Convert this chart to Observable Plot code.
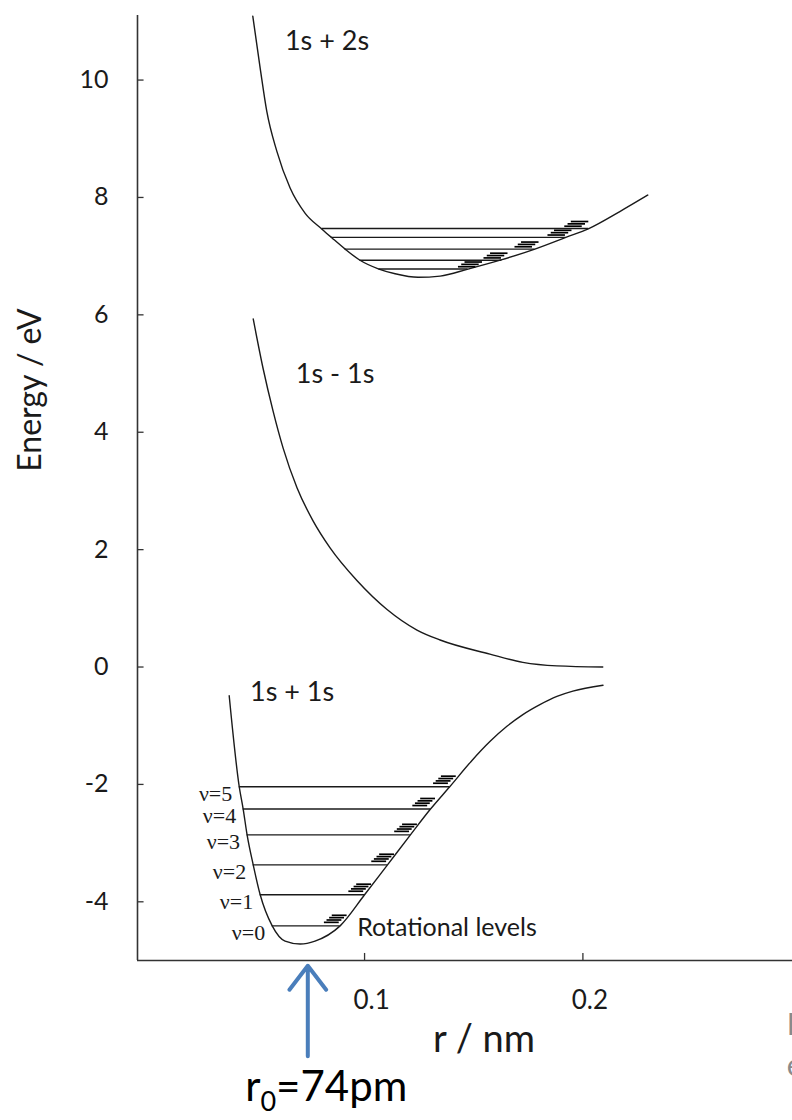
<!DOCTYPE html>
<html><head><meta charset="utf-8">
<script src="https://cdn.jsdelivr.net/npm/d3@7"></script>
<script src="https://cdn.jsdelivr.net/npm/@observablehq/plot@0.6"></script>
<style>
html,body{margin:0;padding:0;background:#fff;}
#chart{width:792px;height:1120px;overflow:hidden;position:relative;}
</style></head><body><div id="chart"></div>
<script>
// Axis ticks
const yTicks = [-4, -2, 0, 2, 4, 6, 8, 10];
const xTicks = [0.1, 0.2];

// 1s + 2s potential curve (r in nm, E in eV)
const upperCurveR = [0.0488, 0.0522, 0.0552, 0.0598, 0.0659, 0.0728, 0.0805, 0.0851, 0.0911, 0.0979, 0.1066, 0.1140, 0.1245, 0.1346, 0.1474, 0.1629, 0.1780, 0.1922, 0.2027, 0.2169, 0.2297];
const upperCurveE = [11.09, 10.20, 9.47, 8.79, 8.16, 7.73, 7.46, 7.31, 7.12, 6.93, 6.78, 6.70, 6.64, 6.66, 6.78, 6.94, 7.12, 7.32, 7.47, 7.76, 8.04];

// 1s - 1s repulsive curve
const midCurveR = [0.0490, 0.0535, 0.0581, 0.0627, 0.0691, 0.0764, 0.0842, 0.0966, 0.1103, 0.1240, 0.1346, 0.1574, 0.1725, 0.1881, 0.2091];
const midCurveE = [5.93, 5.09, 4.36, 3.73, 3.05, 2.49, 2.03, 1.47, 0.98, 0.63, 0.46, 0.22, 0.08, 0.02, 0.00];

// 1s + 1s bonding curve
const lowerCurveR = [0.0380, 0.0426, 0.0444, 0.0462, 0.0490, 0.0522, 0.0577, 0.0636, 0.0705, 0.0773, 0.0888, 0.1000, 0.1105, 0.1210, 0.1302, 0.1390, 0.1490, 0.1574, 0.1652, 0.1725, 0.1803, 0.1881, 0.1954, 0.2092];
const lowerCurveE = [-0.49, -2.04, -2.42, -2.86, -3.37, -3.88, -4.41, -4.67, -4.72, -4.67, -4.41, -3.88, -3.37, -2.86, -2.42, -2.04, -1.60, -1.27, -1.01, -0.81, -0.64, -0.50, -0.41, -0.31];

// Vibrational levels, lower curve (v = 0..5)
const vLabels = ["ν=0", "ν=1", "ν=2", "ν=3", "ν=4", "ν=5"];
const lowerLevelE = [-4.41, -3.88, -3.37, -2.86, -2.42, -2.04];
const lowerLevelLeft = [0.0577, 0.0522, 0.0490, 0.0462, 0.0444, 0.0426];
const lowerLevelRight = [0.0888, 0.1000, 0.1105, 0.1210, 0.1302, 0.1390];
const lowerRotRight = [0.0920, 0.1032, 0.1137, 0.1242, 0.1325, 0.1420];
const lowerRotDE = [0.06, 0.10, 0.14, 0.18];

// Vibrational levels, upper curve
const upperLevelE = [6.78, 6.93, 7.12, 7.32, 7.47];
const upperLevelLeft = [0.1066, 0.0979, 0.0911, 0.0848, 0.0805];
const upperLevelRight = [0.1474, 0.1629, 0.1780, 0.1922, 0.2027];
const upperRotRight = [0.1540, 0.1657, 0.1799, 0.1950, 0.2027];
const upperRotDE = [0.04, 0.08, 0.12];

// Annotations
const curveLabels = ["1s + 2s", "1s - 1s", "1s + 1s"];
const curveLabelR = [0.0828, 0.0865, 0.0668];
const curveLabelE = [10.66, 4.99, -0.44];
const r0 = 0.074; // nm

const toRows = (R, E) => R.map((r, i) => ({r, E: E[i]}));
const levels = (E, L, R) => E.map((e, i) => ({E: e, r1: L[i], r2: R[i]}));
function rungs(E, right, dE, stagger, len) {
  const out = [];
  E.forEach((e, i) => dE.forEach((d, k) => {
    const r2 = right[i] - (dE.length - 1 - k) * stagger;
    out.push({E: e + d, r1: r2 - len, r2});
  }));
  return out;
}

const upperCurve = toRows(upperCurveR, upperCurveE);
const midCurve = toRows(midCurveR, midCurveE);
const lowerCurve = toRows(lowerCurveR, lowerCurveE);
const lowerLevels = levels(lowerLevelE, lowerLevelLeft, lowerLevelRight).map((d, i) => ({...d, label: vLabels[i]}));
const upperLevels = levels(upperLevelE, upperLevelLeft, upperLevelRight);
const lowerRungs = rungs(lowerLevelE, lowerRotRight, lowerRotDE, 0.0012, 0.0068);
const upperRungs = rungs(upperLevelE, upperRotRight, upperRotDE, 0.0015, 0.0080);
const labels = curveLabels.map((t, i) => ({t, r: curveLabelR[i], E: curveLabelE[i]}));

const xMin = -0.004, yMin = -5;
const ink = "#1a1a1a";

const chart = Plot.plot({
  width: 792, height: 1120,
  marginTop: 15, marginBottom: 160, marginLeft: 137, marginRight: 0,
  x: {domain: [xMin, 0.296]},
  y: {domain: [yMin, 11.1]},
  style: {fontFamily: "Lato, 'Open Sans', sans-serif", color: ink, background: "#fff", overflow: "visible"},
  marks: [
    // axes
    Plot.ruleX([xMin], {stroke: "#333", strokeWidth: 1.6}),
    Plot.ruleY([yMin], {stroke: "#333", strokeWidth: 1.6}),
    Plot.ruleY(yTicks, {y: d => d, x1: xMin, x2: xMin + 0.003, stroke: "#333", strokeWidth: 1.3}),
    Plot.ruleX(xTicks, {x: d => d, y1: yMin, y2: yMin + 0.12, stroke: "#333", strokeWidth: 1.3}),
    Plot.axisY({ticks: yTicks, tickSize: 0, tickPadding: 29, tickFormat: d => String(d), fontSize: 25, label: null}),
    Plot.axisX({ticks: xTicks, tickSize: 0, tickPadding: 30, tickFormat: d => String(d), fontSize: 26, dx: 7, label: null}),
    Plot.text(["Energy / eV"], {x: -0.053, y: 4.72, rotate: -90, fontSize: 32, fill: ink}),
    Plot.text(["r / nm"], {x: 0.1547, y: -6.35, fontSize: 38, fill: ink}),
    // curves
    Plot.line(upperCurve, {x: "r", y: "E", curve: "monotone-x", stroke: ink, strokeWidth: 1.4}),
    Plot.line(midCurve, {x: "r", y: "E", curve: "monotone-x", stroke: ink, strokeWidth: 1.4}),
    Plot.line(lowerCurve, {x: "r", y: "E", curve: "monotone-x", stroke: ink, strokeWidth: 1.4}),
    // vibrational levels
    Plot.ruleY(upperLevels, {y: "E", x1: "r1", x2: "r2", stroke: ink, strokeWidth: 1.4}),
    Plot.ruleY(lowerLevels, {y: "E", x1: "r1", x2: "r2", stroke: ink, strokeWidth: 1.4}),
    // rotational levels
    Plot.ruleY(upperRungs, {y: "E", x1: "r1", x2: "r2", stroke: "#000", strokeWidth: 1.7}),
    Plot.ruleY(lowerRungs, {y: "E", x1: "r1", x2: "r2", stroke: "#000", strokeWidth: 1.7}),
    // labels
    Plot.text(lowerLevels, {x: "r1", y: "E", text: "label", textAnchor: "end", dx: -7, dy: 7, fontSize: 22, fontFamily: "'Liberation Serif', serif", fill: ink}),
    Plot.text(labels, {x: "r", y: "E", text: "t", fontSize: 27, fill: ink}),
    Plot.text(["Rotational levels"], {x: 0.0966, y: -4.45, textAnchor: "start", fontSize: 25, fill: ink}),
    // r0 arrow
    Plot.arrow([r0], {x: d => d, y1: -6.63, y2: -5.09, stroke: "#4a7ebb", strokeWidth: 4, headLength: 19, headAngle: 75}),
    Plot.text(["r0=74pm"], {x: 0.0453, y: -7.17, textAnchor: "start", fontSize: 42, fill: "#000", className: "r0label"}),
    // partial grey text at right edge
    Plot.text(["I", "e"], {x: 0.2934, y: (d, i) => [-6.1, -6.8][i], textAnchor: "start", fontSize: 30, fill: "#8a8a8a"})
  ]
});

// subscript for r0 label
const t = chart.querySelector(".r0label text");
if (t) {
  t.textContent = "";
  const ns = "http://www.w3.org/2000/svg";
  const a = document.createElementNS(ns, "tspan"); a.textContent = "r"; t.appendChild(a);
  const b = document.createElementNS(ns, "tspan"); b.textContent = "0"; b.setAttribute("font-size", "27"); b.setAttribute("dy", "10"); t.appendChild(b);
  const c = document.createElementNS(ns, "tspan"); c.textContent = "=74pm"; c.setAttribute("dy", "-10"); t.appendChild(c);
}
document.getElementById("chart").appendChild(chart);
</script></body></html>
